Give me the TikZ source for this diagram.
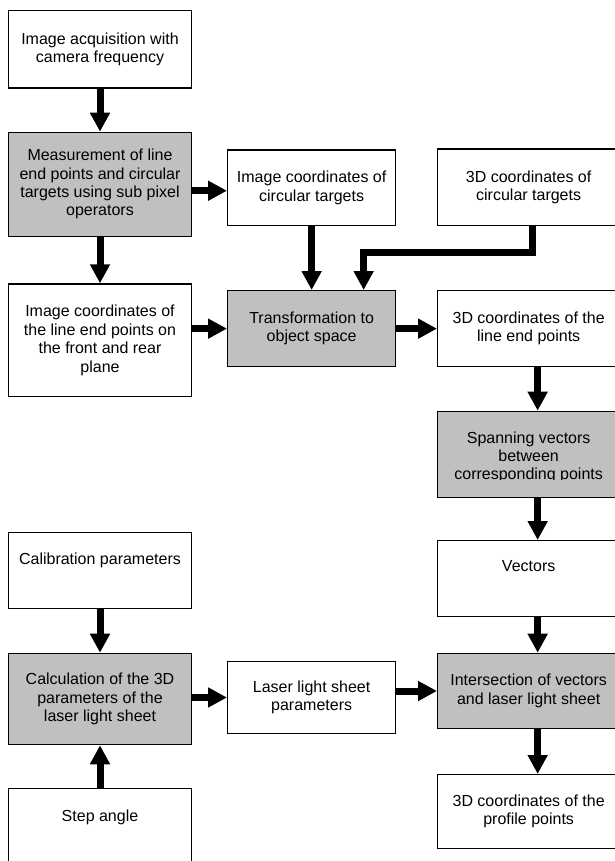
\documentclass[tikz,border=0pt]{standalone}
\usepackage{fontspec}
\setmainfont{Liberation Sans}
\usetikzlibrary{arrows.meta}
\definecolor{boxgray}{HTML}{C0C0C0}
\newcommand{\boxfont}{\fontsize{16pt}{18.4pt}\selectfont}
\begin{document}
\begin{tikzpicture}[x=1pt,y=-1pt,
  box/.style={draw=black, line width=1.3pt, fill=white, inner sep=0pt,
    align=center, anchor=north west, font=\boxfont},
  gbox/.style={box, fill=boxgray},
  lcol/.style={minimum width=182.7pt},
  mcol/.style={minimum width=168pt},
  rcol/.style={minimum width=182pt},
  topline/.style={text height=12pt, text depth=#1},
  txt/.style={inner sep=0pt, align=center, font=\boxfont},
  arr/.style={line width=7pt, -{Triangle[width=19pt,length=19pt]}}]
\useasboundingbox (0,0) rectangle (614,861);
% left column
\node[box,lcol,minimum height=77.3pt] (b1) at (8,10) {Image acquisition with\\camera frequency};
\node[gbox,lcol,minimum height=103.8pt] (b2) at (8,131.7) {Measurement of line\\end points and circular\\targets using sub pixel\\operators};
\node[box,lcol,minimum height=112.7pt] (b5) at (8,283.3) {Image coordinates of\\the line end points on\\the front and rear\\plane};
\node[box,lcol,minimum height=76pt,topline=24pt] (b10) at (8,531.7) {Calibration parameters};
\node[gbox,lcol,minimum height=91.3pt] (b11) at (8,652.7) {Calculation of the 3D\\parameters of the\\laser light sheet};
\node[box,lcol,minimum height=78pt,topline=24pt] (b14) at (8,788) {Step angle};
% middle column
\node[box,mcol,minimum height=75.7pt] (b3) at (227,149.3) {Image coordinates of\\circular targets};
\node[gbox,mcol,minimum height=76pt] (b6) at (227,290) {Transformation to\\object space};
\node[box,mcol,minimum height=71.7pt] (b12) at (227,661) {Laser light sheet\\parameters};
% right column
\node[box,rcol,minimum height=76pt] (b4) at (437,148.5) {3D coordinates of\\circular targets};
\node[box,rcol,minimum height=76pt] (b7) at (437,290) {3D coordinates of the\\line end points};
\node[gbox,rcol,minimum height=86pt] (b8) at (437,410.7) {};
\node[txt,yshift=-3pt] (t8) at (b8.center) {Spanning vectors\\between\\corresponding points};
\fill[boxgray] ([yshift=3.1pt]t8.south west) rectangle ([yshift=-1pt]t8.south east);
\node[box,rcol,minimum height=75.7pt,topline=25.7pt] (b9) at (437,540) {Vectors};
\node[gbox,rcol,minimum height=75.3pt] (b13) at (437,652.7) {Intersection of vectors\\and laser light sheet};
\node[box,rcol,minimum height=74pt] (b15) at (437,774) {3D coordinates of the\\profile points};
% connectors
\draw[arr] (b1.south) -- (b2.north);
\draw[arr] (b2.south) -- (b5.north);
\draw[arr] ([yshift=-6.5pt]b2.east) -- ([yshift=-6.5pt]b2.east -| b3.west);
\draw[arr] (b3.south) -- (b3.south |- b6.north);
\draw[arr] ([xshift=4pt]b4.south) -- ++(0,27) -| ([xshift=52pt]b6.north);
\draw[arr] (b6.west -| b5.east) -- (b6.west);
\draw[arr] (b6.east) -- (b7.west);
\draw[arr] ([xshift=9pt]b7.south) -- ([xshift=9pt]b8.north);
\draw[arr] ([xshift=9pt]b8.south) -- ([xshift=9pt]b9.north);
\draw[arr] ([xshift=9pt]b9.south) -- ([xshift=9pt]b13.north);
\draw[arr] ([xshift=9pt]b13.south) -- ([xshift=9pt]b15.north);
\draw[arr] (b10.south) -- (b11.north);
\draw[arr] (b14.north) -- (b11.south);
\draw[arr] (b12.west -| b11.east) -- (b12.west);
\draw[arr] (b12.east |- b13.west) -- (b13.west);
\end{tikzpicture}
\end{document}
